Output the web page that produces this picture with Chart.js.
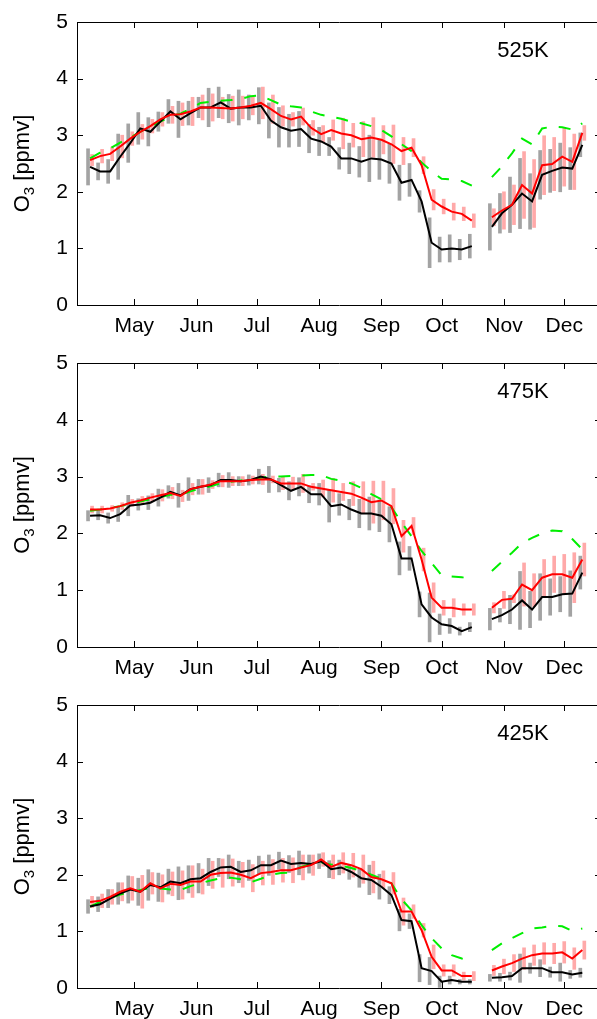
<!DOCTYPE html>
<html>
<head>
<meta charset="utf-8">
<script src="https://cdn.jsdelivr.net/npm/chart.js@4"></script>
<style>
  html, body { margin: 0; padding: 0; background: #fff; overflow: hidden; }
  #wrap { position: relative; width: 597px; height: 1019px; overflow: hidden; }
  canvas { position: absolute; left: 0; }
</style>
</head>
<body>
<div id="wrap">
  <canvas id="p1" width="601" height="340" style="top:0px"></canvas>
  <canvas id="p2" width="601" height="340" style="top:340px"></canvas>
  <canvas id="p3" width="601" height="339" style="top:680px"></canvas>
</div>
<script>
// day of year of each 5-day mean
const days = [99, 104, 109, 114, 119, 124, 129, 134, 139, 144,
              149, 154, 159, 164, 169, 174, 179, 184, 189, 194,
              199, 204, 209, 214, 219, 224, 229, 234, 239, 244,
              249, 254, 259, 264, 269, 274, 279, 284, 289, 294,
              299, 304, 309, 314, 319, 324, 329, 334, 339, 344];

const monthDays = [121, 152, 182, 213, 244, 274, 305, 335];
const monthLabels = ['May', 'Jun', 'Jul', 'Aug', 'Sep', 'Oct', 'Nov', 'Dec'];
const yTicks = [0, 1, 2, 3, 4, 5];
const levels = ['525K', '475K', '425K'];

// 525K
const black1 = [2.44, 2.36, 2.36, 2.62, 2.86, 3.12, 3.06, 3.24, 3.42, 3.28,
                3.39, 3.49, 3.49, 3.58, 3.47, 3.49, 3.49, 3.52, 3.26, 3.14,
                3.08, 3.11, 2.94, 2.89, 2.80, 2.59, 2.59, 2.53, 2.59, 2.57,
                2.50, 2.16, 2.21, 1.83, 1.10, 0.98, 1.00, 0.98, 1.04, null,
                1.38, 1.62, 1.77, 1.97, 1.83, 2.30, 2.37, 2.43, 2.41, 2.83];
const blackErr1 = [0.32, 0.15, 0.21, 0.40, 0.34, 0.28, 0.25, 0.17, 0.21, 0.32,
                   0.21, 0.18, 0.34, 0.27, 0.25, 0.31, 0.22, 0.32, 0.31, 0.35,
                   0.29, 0.31, 0.25, 0.25, 0.16, 0.19, 0.27, 0.27, 0.41, 0.35,
                   0.35, 0.31, 0.29, 0.19, 0.44, 0.22, 0.24, 0.18, 0.21, null,
                   0.41, 0.35, 0.49, 0.62, 0.49, 0.43, 0.38, 0.43, 0.37, 0.21];
const red1 = [2.56, 2.63, 2.67, 2.80, 2.94, 3.06, 3.16, 3.28, 3.36, 3.37,
              3.42, 3.49, 3.49, 3.48, 3.47, 3.49, 3.52, 3.57, 3.46, 3.34,
              3.28, 3.33, 3.13, 3.02, 3.09, 3.03, 3.00, 2.93, 2.96, 2.92,
              2.84, 2.72, 2.78, 2.47, 1.86, 1.74, 1.65, 1.61, 1.49, null,
              1.55, 1.67, 1.77, 2.12, 1.97, 2.47, 2.49, 2.62, 2.53, 3.04];
const redErr1 = [0.10, 0.12, 0.12, 0.20, 0.12, 0.13, 0.12, 0.12, 0.15, 0.20,
                 0.25, 0.22, 0.24, 0.19, 0.22, 0.20, 0.16, 0.28, 0.25, 0.18,
                 0.12, 0.15, 0.13, 0.15, 0.18, 0.27, 0.21, 0.31, 0.35, 0.25,
                 0.34, 0.24, 0.16, 0.15, 0.18, 0.13, 0.15, 0.12, 0.12, null,
                 0.15, 0.33, 0.35, 0.59, 0.60, 0.52, 0.47, 0.52, 0.49, 0.13];
const green1 = [2.59, 2.69, 2.77, 2.87, 2.96, 3.06, 3.15, 3.24, 3.33, 3.38,
                3.47, 3.57, 3.59, 3.61, 3.62, 3.64, 3.69, 3.70, 3.62, 3.54,
                3.51, 3.49, 3.42, 3.36, 3.33, 3.29, 3.24, 3.21, 3.16, 3.09,
                2.98, 2.84, 2.72, 2.52, 2.36, 2.23, 2.22, 2.19, 2.11, null,
                2.26, 2.45, 2.68, 2.94, 2.84, 3.12, 3.15, 3.14, 3.10, 3.21];

// 475K
const black2 = [2.31, 2.32, 2.27, 2.34, 2.49, 2.51, 2.54, 2.63, 2.73, 2.67,
                2.78, 2.82, 2.85, 2.94, 2.94, 2.92, 2.94, 3.00, 2.95, 2.85,
                2.75, 2.82, 2.69, 2.69, 2.48, 2.51, 2.42, 2.35, 2.35, 2.31,
                2.16, 1.56, 1.56, 0.75, 0.52, 0.40, 0.37, 0.28, 0.35, null,
                0.49, 0.56, 0.66, 0.82, 0.66, 0.88, 0.88, 0.93, 0.94, 1.31];
const blackErr2 = [0.09, 0.08, 0.09, 0.13, 0.18, 0.10, 0.12, 0.15, 0.11, 0.21,
                   0.20, 0.13, 0.13, 0.12, 0.13, 0.08, 0.09, 0.13, 0.23, 0.12,
                   0.16, 0.16, 0.15, 0.19, 0.28, 0.19, 0.18, 0.25, 0.29, 0.28,
                   0.31, 0.29, 0.21, 0.22, 0.43, 0.18, 0.13, 0.07, 0.08, null,
                   0.19, 0.12, 0.25, 0.51, 0.32, 0.41, 0.32, 0.31, 0.40, 0.29];
const red2 = [2.42, 2.42, 2.44, 2.48, 2.54, 2.58, 2.63, 2.67, 2.71, 2.66,
              2.78, 2.82, 2.86, 2.92, 2.92, 2.92, 2.94, 2.95, 2.95, 2.88,
              2.88, 2.88, 2.82, 2.79, 2.76, 2.73, 2.70, 2.63, 2.55, 2.58,
              2.48, 1.95, 2.13, 1.54, 0.87, 0.69, 0.69, 0.66, 0.66, null,
              0.69, 0.83, 0.85, 1.10, 1.00, 1.22, 1.28, 1.28, 1.22, 1.54];
const redErr2 = [0.06, 0.06, 0.05, 0.06, 0.06, 0.07, 0.07, 0.10, 0.10, 0.10,
                 0.10, 0.13, 0.07, 0.10, 0.08, 0.08, 0.07, 0.09, 0.06, 0.11,
                 0.11, 0.16, 0.06, 0.15, 0.21, 0.15, 0.21, 0.28, 0.37, 0.34,
                 0.31, 0.28, 0.15, 0.20, 0.26, 0.13, 0.16, 0.10, 0.10, null,
                 0.09, 0.15, 0.07, 0.38, 0.29, 0.32, 0.32, 0.35, 0.44, 0.29];
const green2 = [2.40, 2.42, 2.45, 2.48, 2.52, 2.56, 2.60, 2.64, 2.68, 2.68,
                2.74, 2.79, 2.83, 2.88, 2.91, 2.93, 2.95, 2.98, 3.00, 3.00,
                3.01, 3.02, 3.03, 3.03, 2.96, 2.93, 2.88, 2.80, 2.69, 2.60,
                2.46, 2.19, 1.95, 1.69, 1.48, 1.26, 1.24, 1.23, 1.18, null,
                1.34, 1.50, 1.66, 1.83, 1.92, 2.00, 2.05, 2.04, 1.90, 1.72];

// 425K
const black3 = [1.44, 1.48, 1.58, 1.67, 1.74, 1.70, 1.82, 1.78, 1.88, 1.85,
                1.92, 1.94, 2.05, 2.13, 2.14, 2.05, 2.08, 2.17, 2.17, 2.25,
                2.19, 2.21, 2.19, 2.24, 2.10, 2.13, 2.05, 1.94, 1.91, 1.79,
                1.64, 1.20, 1.18, 0.35, 0.30, 0.11, 0.14, 0.11, 0.11, null,
                0.18, 0.19, 0.21, 0.35, 0.35, 0.35, 0.28, 0.28, 0.24, 0.27];
const blackErr3 = [0.12, 0.13, 0.16, 0.19, 0.24, 0.24, 0.27, 0.25, 0.22, 0.29,
                   0.24, 0.26, 0.24, 0.16, 0.21, 0.19, 0.18, 0.16, 0.18, 0.15,
                   0.15, 0.21, 0.16, 0.13, 0.15, 0.13, 0.13, 0.16, 0.26, 0.22,
                   0.15, 0.19, 0.13, 0.24, 0.24, 0.10, 0.07, 0.04, 0.04, null,
                   0.06, 0.07, 0.07, 0.25, 0.09, 0.15, 0.09, 0.16, 0.07, 0.08];
const red3 = [1.52, 1.54, 1.61, 1.70, 1.76, 1.70, 1.85, 1.76, 1.84, 1.82,
              1.88, 1.88, 2.00, 2.03, 2.04, 2.00, 1.94, 2.03, 2.05, 2.08,
              2.08, 2.13, 2.17, 2.27, 2.14, 2.21, 2.17, 2.10, 1.96, 1.92,
              1.85, 1.35, 1.35, 1.02, 0.55, 0.31, 0.31, 0.21, 0.21, null,
              0.31, 0.38, 0.44, 0.52, 0.58, 0.61, 0.61, 0.63, 0.52, 0.67];
const redErr3 = [0.10, 0.12, 0.13, 0.16, 0.21, 0.29, 0.19, 0.24, 0.21, 0.25,
                 0.28, 0.22, 0.24, 0.25, 0.24, 0.22, 0.24, 0.21, 0.22, 0.21,
                 0.22, 0.22, 0.18, 0.12, 0.21, 0.18, 0.21, 0.25, 0.28, 0.15,
                 0.19, 0.24, 0.12, 0.12, 0.21, 0.10, 0.10, 0.07, 0.08, null,
                 0.09, 0.13, 0.15, 0.19, 0.18, 0.19, 0.18, 0.19, 0.19, 0.16];
const green3 = [1.44, 1.52, 1.59, 1.65, 1.69, 1.73, 1.77, 1.76, 1.74, 1.73,
                1.80, 1.85, 1.90, 1.94, 1.95, 1.92, 1.87, 1.93, 2.00, 2.03,
                2.04, 2.14, 2.19, 2.22, 2.18, 2.16, 2.12, 2.07, 2.00, 1.93,
                1.85, 1.57, 1.37, 1.11, 0.88, 0.70, 0.58, 0.52, 0.48, null,
                0.67, 0.79, 0.88, 0.97, 1.05, 1.07, 1.10, 1.09, 1.01, 1.05];

const FONT = "'Liberation Sans', Arial, Helvetica, sans-serif";
Chart.defaults.font.family = FONT;
Chart.defaults.color = '#000';

// box, inward ticks, level label and y title
const framePlugin = {
  id: 'frame',
  afterDraw(chart, args, opts) {
    const {ctx, chartArea: a, scales: {x, y}} = chart;
    ctx.save();
    ctx.strokeStyle = '#000';
    ctx.lineWidth = 1;
    ctx.beginPath();
    ctx.rect(Math.round(a.left) + 0.5, Math.round(a.top) + 0.5, a.right - a.left, Math.round(a.bottom - a.top));
    ctx.stroke();

    ctx.beginPath();
    monthDays.forEach(d => {
      const px = Math.round(x.getPixelForValue(d)) + 0.5;
      ctx.moveTo(px, a.bottom); ctx.lineTo(px, a.bottom - 6);
      ctx.moveTo(px, a.top); ctx.lineTo(px, a.top + 6);
    });
    yTicks.forEach(v => {
      const py = Math.round(y.getPixelForValue(v)) + 0.5;
      ctx.moveTo(a.left, py); ctx.lineTo(a.left + 6, py);
      ctx.moveTo(a.right, py); ctx.lineTo(a.right - 6, py);
    });
    ctx.stroke();

    // level label
    ctx.fillStyle = '#000';
    ctx.font = '22px ' + FONT;
    ctx.textAlign = 'left';
    ctx.textBaseline = 'middle';
    ctx.fillText(opts.label, x.getPixelForValue(301.7), y.getPixelForValue(4.49));

    // y title: O3 [ppmv] with subscript
    const cy = (a.top + a.bottom) / 2;
    ctx.translate(29, cy);
    ctx.rotate(-Math.PI / 2);
    ctx.textBaseline = 'alphabetic';
    ctx.font = '22px ' + FONT;
    const w1 = ctx.measureText('O').width;
    const w3 = ctx.measureText(' [ppmv]').width;
    ctx.font = '15px ' + FONT;
    const w2 = ctx.measureText('3').width;
    let sx = -(w1 + w2 + w3) / 2;
    ctx.font = '22px ' + FONT;
    ctx.fillText('O', sx, 0);
    ctx.font = '15px ' + FONT;
    ctx.fillText('3', sx + w1, 5);
    ctx.font = '22px ' + FONT;
    ctx.fillText(' [ppmv]', sx + w1 + w2, 0);
    ctx.restore();
  }
};

function lineData(vals) {
  return days.map((d, i) => ({x: d, y: vals[i]}));
}
function barData(vals, errs, shift) {
  const out = [];
  days.forEach((d, i) => {
    if (vals[i] == null) return;
    out.push({x: d + shift, y: [vals[i] - errs[i], vals[i] + errs[i]]});
  });
  return out;
}

function makePanel(id, black, blackErr, red, redErr, green, label, top, axisH) {
  new Chart(document.getElementById(id), {
    type: 'line',
    data: {
      datasets: [
        {data: lineData(red), borderColor: '#ff0000', borderWidth: 2, pointRadius: 0, order: 0},
        {data: lineData(black), borderColor: '#000000', borderWidth: 2, pointRadius: 0, order: 1},
        {data: lineData(green), borderColor: '#00ee00', borderWidth: 2, borderDash: [12, 12], pointRadius: 0, order: 2},
        {type: 'bar', data: barData(red, redErr, 1), backgroundColor: '#ffa9a9', grouped: false,
         maxBarThickness: 3, barPercentage: 1, categoryPercentage: 1, borderWidth: 0, order: 3},
        {type: 'bar', data: barData(black, blackErr, -1), backgroundColor: '#a3a3a3', grouped: false,
         maxBarThickness: 3, barPercentage: 1, categoryPercentage: 1, borderWidth: 0, order: 4}
      ]
    },
    options: {
      responsive: false,
      devicePixelRatio: 1,
      animation: false,
      spanGaps: false,
      layout: {padding: {top: top, left: 0, right: 0, bottom: 0}},
      plugins: {legend: {display: false}, tooltip: {enabled: false}, frame: {label: label}},
      scales: {
        x: {
          type: 'linear', min: 92.5, max: 353.3, offset: false,
          grid: {display: false, drawTicks: false}, border: {display: false},
          afterBuildTicks: s => { s.ticks = monthDays.map(v => ({value: v})); },
          afterFit: s => { s.height = axisH; },
          ticks: {
            autoSkip: false, maxRotation: 0, padding: 9,
            font: {size: 21},
            callback: v => monthLabels[monthDays.indexOf(v)]
          }
        },
        y: {
          min: 0, max: 5,
          grid: {display: false, drawTicks: false}, border: {display: false},
          afterBuildTicks: s => { s.ticks = yTicks.map(v => ({value: v})); },
          afterFit: s => { s.width = 77; },
          ticks: {padding: 9, font: {size: 21}}
        }
      }
    },
    plugins: [framePlugin]
  });
}

makePanel('p1', black1, blackErr1, red1, redErr1, green1, levels[0], 22, 35);
makePanel('p2', black2, blackErr2, red2, redErr2, green2, levels[1], 23, 33);
makePanel('p3', black3, blackErr3, red3, redErr3, green3, levels[2], 25, 31);
</script>
</body>
</html>
